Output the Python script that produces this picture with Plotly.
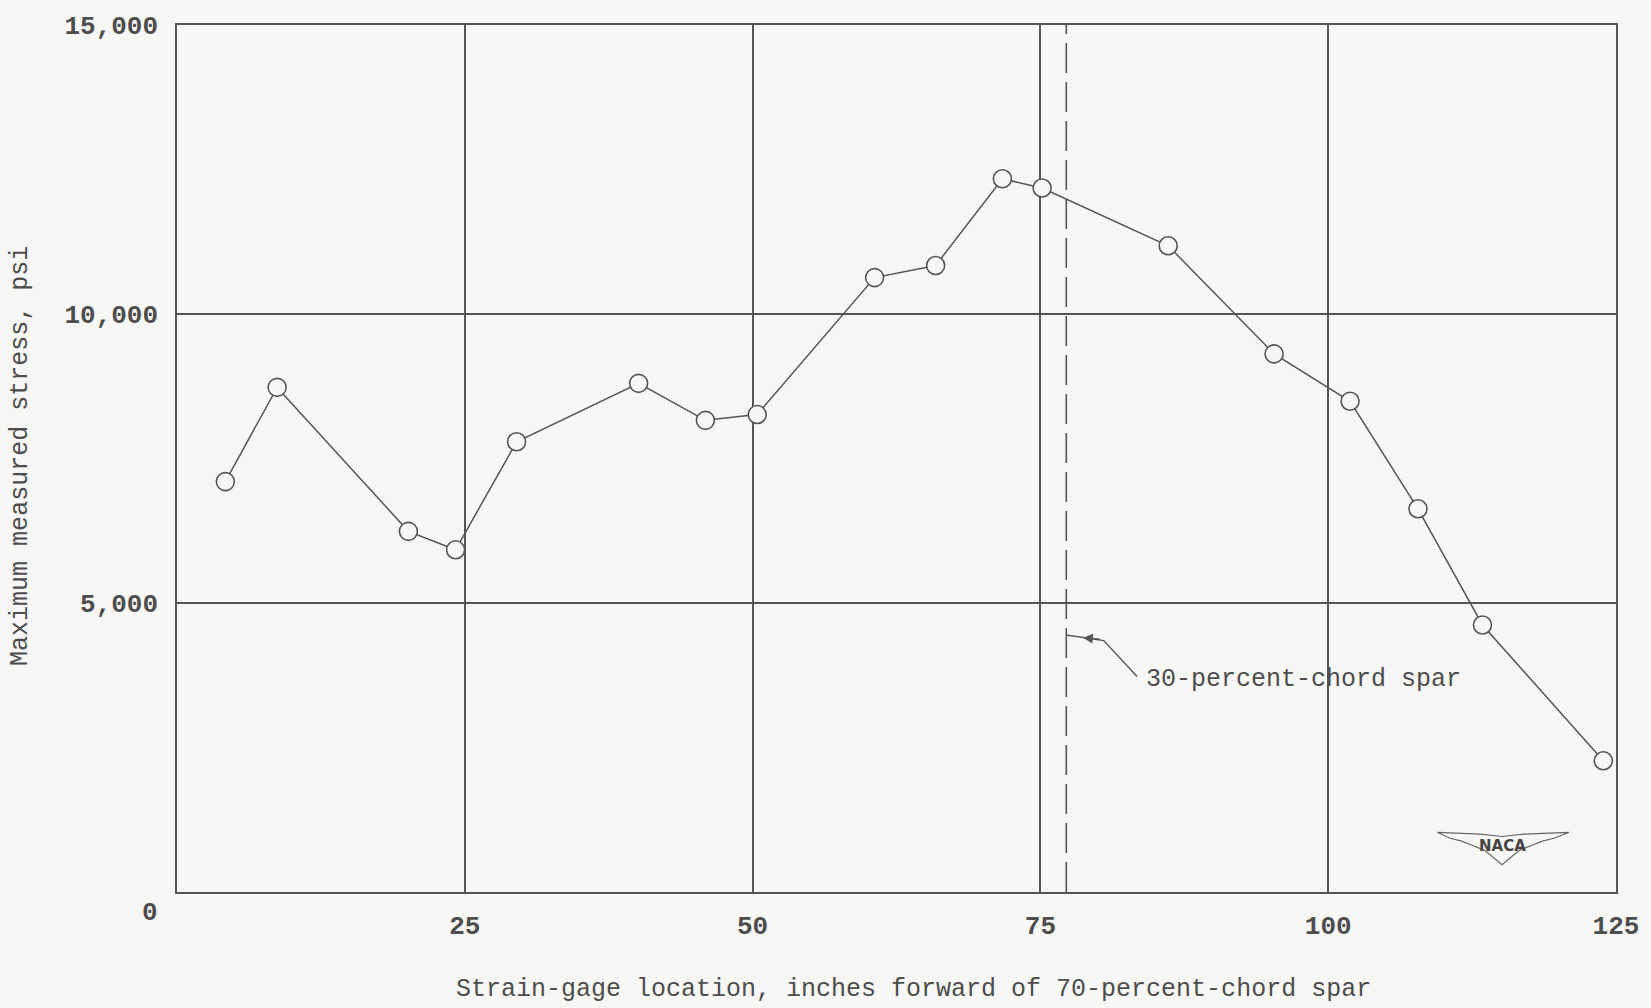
import plotly.graph_objects as go

# Data
gage_location_in = [4.2, 8.7, 20.1, 24.2, 29.5, 40.1, 45.9, 50.4, 60.6, 65.9,
                    71.7, 75.15, 86.1, 95.3, 101.9, 107.8, 113.4, 123.9]
max_stress_psi = [7100, 8730, 6240, 5920, 7790, 8800, 8160, 8260, 10630, 10840,
                  12340, 12180, 11180, 9310, 8490, 6630, 4620, 2270]

x_tick_vals = [0, 25, 50, 75, 100, 125]
x_tick_text = ["", "25", "50", "75", "100", "125"]
y_tick_vals = [0, 5000, 10000, 15000]
y_tick_text = ["", "5,000", "10,000", "15,000"]

spar30_x = 77.25
spar_label = "30-percent-chord spar"
x_title = "Strain-gage location, inches forward of 70-percent-chord spar"
y_title = "Maximum measured stress, psi"

BG = "#f6f6f5"
INK = "#555555"
TXT = "#4d4d4d"
MONO = "Liberation Mono"

fig = go.Figure()

# 30-percent-chord spar (dashed vertical line)
fig.add_trace(go.Scatter(
    x=[spar30_x, spar30_x], y=[0, 15000], mode="lines",
    line=dict(color=INK, width=1.6, dash="30px,9px"),
    hoverinfo="skip", showlegend=False))

# Measured stress
fig.add_trace(go.Scatter(
    x=gage_location_in, y=max_stress_psi, mode="lines+markers",
    line=dict(color=INK, width=1.5),
    marker=dict(symbol="circle", size=18, color=BG,
                line=dict(color=INK, width=1.6)),
    showlegend=False))

axis_common = dict(
    showgrid=True, gridcolor=INK, gridwidth=1.5,
    showline=True, linecolor=INK, linewidth=1.5, mirror=True,
    zeroline=False, ticks="", tickfont=dict(family=MONO, size=26, color=TXT, weight="bold"),
    fixedrange=True,
)

fig.update_xaxes(range=[0, 125], tickmode="array", tickvals=x_tick_vals,
                 ticktext=x_tick_text, ticklabelstandoff=9, **axis_common)
fig.update_yaxes(range=[0, 15000], tickmode="array", tickvals=y_tick_vals,
                 ticktext=y_tick_text, ticklabelstandoff=12, **axis_common)

# Leader line for the spar label
fig.add_shape(type="path",
              path=f"M {spar30_x},4446 L 80.5,4350 L 83.4,3730",
              xref="x", yref="y", line=dict(color=INK, width=1.4))
fig.add_annotation(x=78.7, y=4400, ax=80.3, ay=4370, xref="x", yref="y",
                   axref="x", ayref="y", text="", showarrow=True,
                   arrowhead=2, arrowsize=1.4, arrowwidth=1.4, arrowcolor=INK)
fig.add_annotation(x=84.0, y=3680, xref="x", yref="y", text=spar_label,
                   showarrow=False, xanchor="left", yanchor="middle",
                   font=dict(family=MONO, size=25, color=TXT))

# y = 0 label (placed below-left of the corner, as in the original)
fig.add_annotation(x=0, y=0, xref="paper", yref="paper", text="0",
                   showarrow=False, xanchor="center", yanchor="middle",
                   xshift=-27, yshift=-21,
                   font=dict(family=MONO, size=26, color=TXT, weight="bold"))

# Axis titles
fig.add_annotation(x=0.5116, y=0, xref="paper", yref="paper", text=x_title,
                   showarrow=False, xanchor="center", yanchor="middle", yshift=-97,
                   font=dict(family=MONO, size=25, color=TXT))
fig.add_annotation(x=0, y=0.503, xref="paper", yref="paper", text=y_title,
                   showarrow=False, xanchor="center", yanchor="middle", xshift=-156,
                   textangle=-90, font=dict(family=MONO, size=25, color=TXT))

# NACA wing emblem
fig.add_shape(type="path",
              path=("M 109.5,1030 L 113.2,1000 L 115.1,960 L 117.0,1000 L 120.9,1030 "
                    "L 119.6,930 L 118.6,880 L 117.6,800 L 116.6,720 L 115.1,470 "
                    "L 113.6,720 L 112.6,800 L 111.6,880 L 110.6,930 Z"),
              xref="x", yref="y", line=dict(color="#666666", width=1.2),
              fillcolor=BG)
fig.add_annotation(x=115.1, y=800, xref="x", yref="y", text="<b>NACA</b>",
                   showarrow=False, font=dict(family="DejaVu Sans", size=15, color="#444444"))

fig.update_layout(
    width=1651, height=1008,
    margin=dict(l=177, r=28, t=23, b=116),
    paper_bgcolor=BG, plot_bgcolor=BG,
    showlegend=False,
)

fig.write_html("out.html")
